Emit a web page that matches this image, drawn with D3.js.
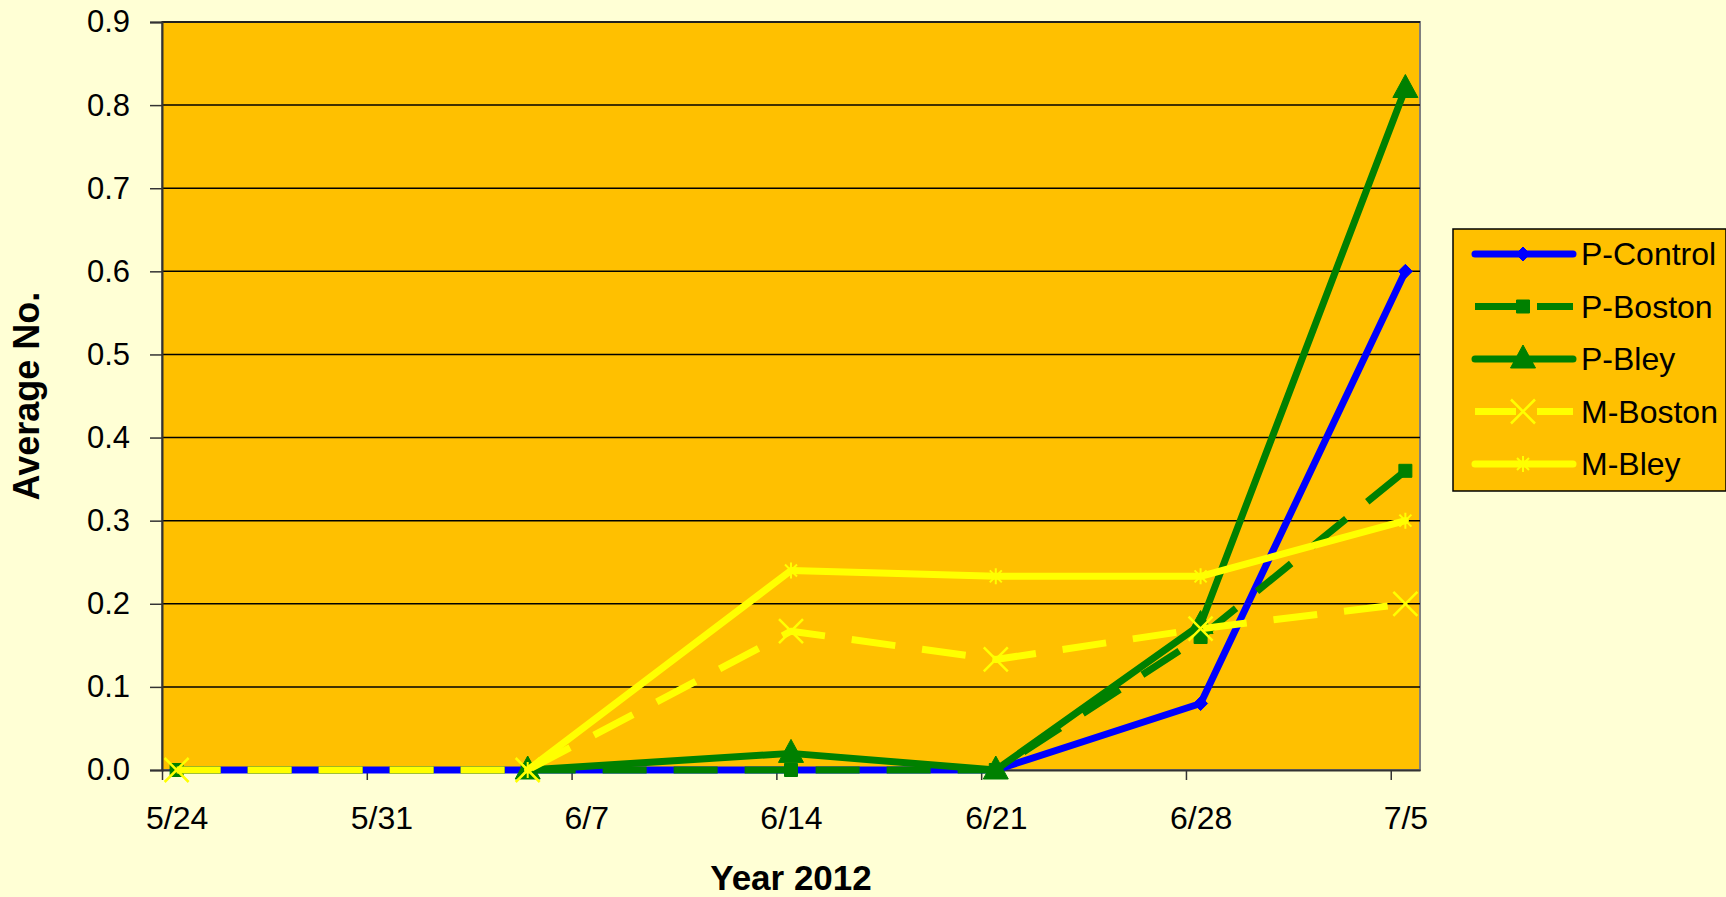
<!DOCTYPE html>
<html>
<head>
<meta charset="utf-8">
<script src="https://cdn.jsdelivr.net/npm/d3@7"></script>
<style>
  body { margin: 0; background: #FFFFD5; }
  svg { display: block; }
  text { font-family: "Liberation Sans", Arial, sans-serif; }
</style>
</head>
<body>
<div id="chart"></div>
<script>
const dates = ['2012-05-24', '2012-06-05', '2012-06-14', '2012-06-21', '2012-06-28', '2012-07-05'];
const tickLabels = ['5/24', '5/31', '6/7', '6/14', '6/21', '6/28', '7/5'];
const tickDates = ['2012-05-24', '2012-05-31', '2012-06-07', '2012-06-14', '2012-06-21', '2012-06-28', '2012-07-05'];
const yTicks = [0, 0.1, 0.2, 0.3, 0.4, 0.5, 0.6, 0.7, 0.8, 0.9];

const seriesNames = ['P-Control', 'P-Boston', 'P-Bley', 'M-Boston', 'M-Bley'];
const pControl = [0, 0, 0, 0, 0.08, 0.6];
const pBoston = [0, 0, 0, 0, 0.16, 0.36];
const pBley = [null, 0, 0.02, 0, 0.175, 0.82];
const mBoston = [0, 0, 0.167, 0.133, 0.17, 0.2];
const mBley = [null, 0, 0.24, 0.233, 0.233, 0.3];

const w = 1726;
const h = 897;
const plot = {left: 162, right: 1420, top: 22, bottom: 770};
const dayMs = 24 * 3600 * 1000;

const parse = (s) => new Date(s + 'T00:00:00');

// style for each series, in the order above
const styles = [
    {color: '#0000FF', dash: null, marker: 'diamond'},
    {color: '#008000', dash: '44,27', marker: 'square'},
    {color: '#008000', dash: null, marker: 'triangle'},
    {color: '#FFFF00', dash: '44,27', marker: 'x'},
    {color: '#FFFF00', dash: null, marker: 'star'}
];
const allValues = [pControl, pBoston, pBley, mBoston, mBley];

const markerPath = (type) => {
    switch(type) {
        case 'diamond': return 'M0,-7L7,0L0,7L-7,0Z';
        case 'square': return 'M-6.5,-6.5H6.5V6.5H-6.5Z';
        case 'triangle': return 'M0,-14L12.5,9L-12.5,9Z';
        case 'x': return 'M-12,-12L12,12M-12,12L12,-12';
        case 'star': return 'M-6,-6L6,6M-6,6L6,-6M0,-8V8';
    }
}

const drawMarker = (g, type, color) => {
    const filled = type === 'diamond' || type === 'square' || type === 'triangle';
    g.append('path')
        .attr('d', markerPath(type))
        .attr('fill', filled ? color : 'none')
        .attr('stroke', color)
        .attr('stroke-width', filled ? 1 : (type === 'x' ? 2.5 : 2));
}

const svg = d3.select('#chart')
    .append('svg')
    .attr('width', w)
    .attr('height', h);

const xScale = d3.scaleTime()
    .domain([parse('2012-05-24'), parse('2012-07-06')])
    .range([plot.left, plot.right]);

const yScale = d3.scaleLinear()
    .domain([0, 0.9])
    .range([plot.bottom, plot.top]);

const halfDay = xScale(new Date(parse('2012-05-24').getTime() + dayMs / 2)) - plot.left;

// plot background
svg.append('rect')
    .attr('x', plot.left)
    .attr('y', plot.top)
    .attr('width', plot.right - plot.left)
    .attr('height', plot.bottom - plot.top)
    .attr('fill', '#FFC000')
    .attr('stroke', '#808080')
    .attr('stroke-width', 2);

// gridlines
svg.append('g')
    .selectAll('line')
    .data(yTicks.filter(d => d > 0))
    .enter()
    .append('line')
    .attr('x1', plot.left)
    .attr('x2', plot.right)
    .attr('y1', d => yScale(d))
    .attr('y2', d => yScale(d))
    .attr('stroke', '#000')
    .attr('stroke-width', 1.5);

const yAxis = d3.axisLeft(yScale)
    .tickValues(yTicks)
    .tickFormat(d3.format('.1f'))
    .tickSize(12)
    .tickPadding(20);

svg.append('g')
    .attr('id', 'y-axis')
    .attr('transform', `translate(${plot.left}, 0)`)
    .call(yAxis)
    .call(g => g.select('.domain').attr('stroke', '#333').attr('stroke-width', 2))
    .call(g => g.selectAll('.tick line').attr('stroke', '#333').attr('stroke-width', 1.5))
    .call(g => g.selectAll('.tick text').attr('font-size', 31).attr('fill', '#000')
        .attr('font-family', '"Liberation Sans", Arial, sans-serif'));

const xAxis = d3.axisBottom(xScale)
    .tickValues(tickDates.map(parse))
    .tickFormat((d, i) => tickLabels[i])
    .tickSize(10)
    .tickSizeOuter(0)
    .tickPadding(26);

svg.append('g')
    .attr('id', 'x-axis')
    .attr('transform', `translate(0, ${plot.bottom})`)
    .call(xAxis)
    .call(g => g.select('.domain').attr('stroke', '#333').attr('stroke-width', 2))
    .call(g => g.selectAll('.tick line').attr('stroke', '#333').attr('stroke-width', 1.5))
    .call(g => g.selectAll('.tick text').attr('font-size', 32).attr('fill', '#000')
        .attr('x', halfDay)
        .attr('font-family', '"Liberation Sans", Arial, sans-serif'));

// axis titles
svg.append('text')
    .attr('transform', `translate(39, ${(plot.top + plot.bottom) / 2}) rotate(-90)`)
    .attr('text-anchor', 'middle')
    .attr('font-size', 36)
    .attr('font-weight', 'bold')
    .text('Average No.');

svg.append('text')
    .attr('x', (plot.left + plot.right) / 2)
    .attr('y', 890)
    .attr('text-anchor', 'middle')
    .attr('font-size', 35)
    .attr('font-weight', 'bold')
    .text('Year 2012');

// series
const pointX = (s) => xScale(new Date(parse(s).getTime() + dayMs / 2));

const line = d3.line()
    .defined(d => d.v !== null)
    .x(d => pointX(d.date))
    .y(d => yScale(d.v));

allValues.forEach((vals, i) => {
    const st = styles[i];
    const pts = vals.map((v, j) => ({date: dates[j], v: v}));
    const g = svg.append('g').attr('class', 'series');
    g.append('path')
        .datum(pts)
        .attr('d', line)
        .attr('fill', 'none')
        .attr('stroke', st.color)
        .attr('stroke-width', 7)
        .attr('stroke-linejoin', 'round')
        .attr('stroke-linecap', st.dash ? 'butt' : 'round')
        .attr('stroke-dasharray', st.dash);
    pts.filter(d => d.v !== null).forEach(d => {
        const m = g.append('g').attr('transform', `translate(${pointX(d.date)}, ${yScale(d.v)})`);
        drawMarker(m, st.marker, st.color);
    });
});

// legend
const legend = svg.append('g').attr('transform', 'translate(1453, 229)');
legend.append('rect')
    .attr('width', 273)
    .attr('height', 262)
    .attr('fill', '#FFC000')
    .attr('stroke', '#000')
    .attr('stroke-width', 1.5);

seriesNames.forEach((name, i) => {
    const st = styles[i];
    const row = legend.append('g').attr('transform', `translate(0, ${25 + i * 52.5})`);
    row.append('line')
        .attr('x1', 22)
        .attr('x2', 120)
        .attr('stroke', st.color)
        .attr('stroke-width', 7)
        .attr('stroke-linecap', st.dash ? 'butt' : 'round')
        .attr('stroke-dasharray', st.dash ? '41,21' : null);
    const m = row.append('g').attr('transform', 'translate(70, 0)');
    drawMarker(m, st.marker, st.color);
    row.append('text')
        .attr('x', 128)
        .attr('y', 11)
        .attr('font-size', 32)
        .text(name);
});
</script>
</body>
</html>
